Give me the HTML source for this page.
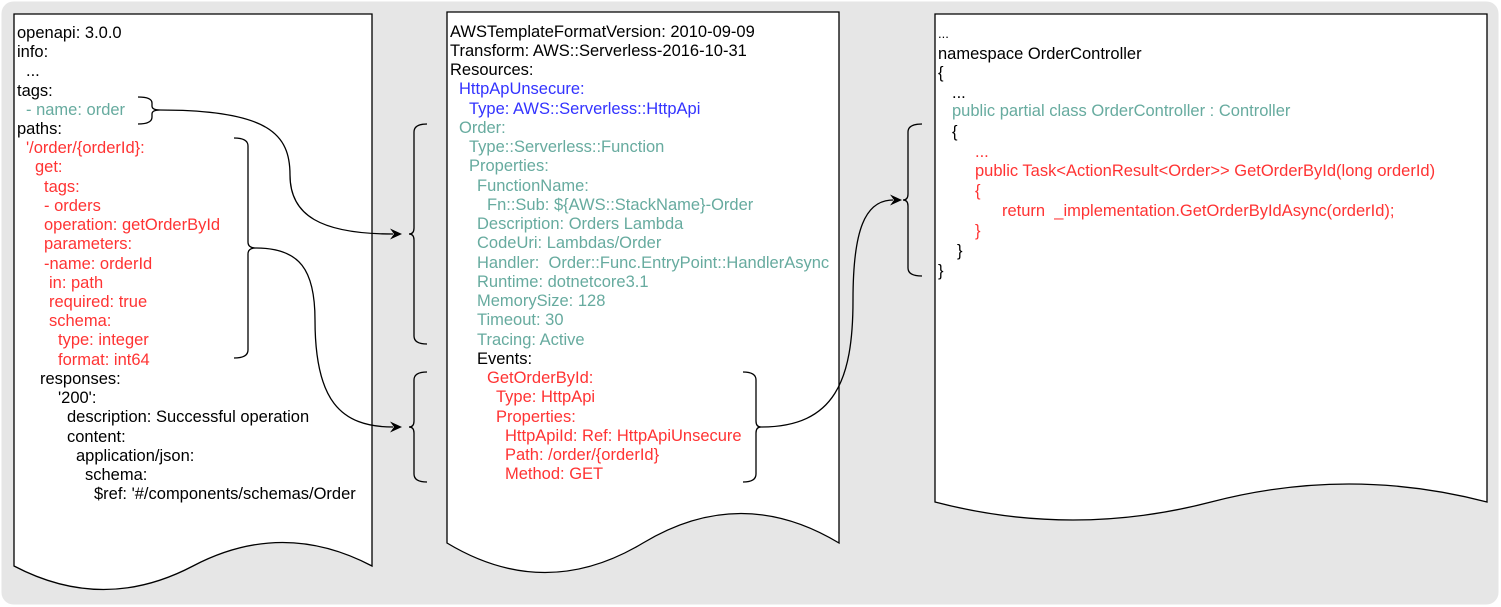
<!DOCTYPE html>
<html><head><meta charset="utf-8"><style>
html,body{margin:0;padding:0;background:#fff;}
svg{display:block;}
text{font-family:"Liberation Sans",Arial,sans-serif;font-size:16.5px;}
.k{fill:#000}.t{fill:#67AB9F}.r{fill:#FF3333}.b{fill:#3333FF}
</style></head><body>
<svg width="1501" height="607" viewBox="0 0 1501 607" xmlns="http://www.w3.org/2000/svg">
<rect x="1.5" y="1.5" width="1497" height="603" rx="12" fill="#e6e6e6"/>
<g fill="#fff" stroke="#000" stroke-width="1.3">
<path d="M14,14 H372 V566 Q282.5,519 193,566 Q103.5,613 14,566 Z"/>
<path d="M447,12 H839 V543 Q741,484 643,543 Q545,602 447,543 Z"/>
<path d="M935,14 H1487 V502 Q1349,466 1211,502 Q1073,538 935,502 Z"/>
</g>
<g>
<text class="k" x="17" y="38">openapi: 3.0.0</text>
<text class="k" x="17" y="57">info:</text>
<text class="k" x="26" y="76">...</text>
<text class="k" x="17" y="96">tags:</text>
<text class="t" x="26" y="115">- name: order</text>
<text class="k" x="17" y="134">paths:</text>
<text class="r" x="26" y="153">'/order/{orderId}:</text>
<text class="r" x="35" y="172">get:</text>
<text class="r" x="44" y="192">tags:</text>
<text class="r" x="44" y="211">- orders</text>
<text class="r" x="44" y="230">operation: getOrderById</text>
<text class="r" x="44" y="249">parameters:</text>
<text class="r" x="44" y="269">-name: orderId</text>
<text class="r" x="49" y="288">in: path</text>
<text class="r" x="49" y="307">required: true</text>
<text class="r" x="49" y="326">schema:</text>
<text class="r" x="58" y="345">type: integer</text>
<text class="r" x="58" y="365">format: int64</text>
<text class="k" x="40" y="384">responses:</text>
<text class="k" x="58" y="403">'200':</text>
<text class="k" x="67" y="422">description: Successful operation</text>
<text class="k" x="67" y="442">content:</text>
<text class="k" x="76" y="461">application/json:</text>
<text class="k" x="85" y="480">schema:</text>
<text class="k" x="94" y="499">$ref: '#/components/schemas/Order</text>
</g>
<g>
<text class="k" x="450" y="37">AWSTemplateFormatVersion: 2010-09-09</text>
<text class="k" x="450" y="56">Transform: AWS::Serverless-2016-10-31</text>
<text class="k" x="450" y="75">Resources:</text>
<text class="b" x="459" y="94">HttpApUnsecure:</text>
<text class="b" x="469" y="114">Type: AWS::Serverless::HttpApi</text>
<text class="t" x="459" y="133">Order:</text>
<text class="t" x="469" y="152">Type::Serverless::Function</text>
<text class="t" x="469" y="171">Properties:</text>
<text class="t" x="477" y="191">FunctionName:</text>
<text class="t" x="487" y="210">Fn::Sub: ${AWS::StackName}-Order</text>
<text class="t" x="477" y="229">Description: Orders Lambda</text>
<text class="t" x="477" y="248">CodeUri: Lambdas/Order</text>
<text class="t" x="477" y="268">Handler:&#160; Order::Func.EntryPoint::HandlerAsync</text>
<text class="t" x="477" y="287">Runtime: dotnetcore3.1</text>
<text class="t" x="477" y="306">MemorySize: 128</text>
<text class="t" x="477" y="325">Timeout: 30</text>
<text class="t" x="477" y="345">Tracing: Active</text>
<text class="k" x="477" y="364">Events:</text>
<text class="r" x="487" y="383">GetOrderById:</text>
<text class="r" x="496" y="402">Type: HttpApi</text>
<text class="r" x="496" y="422">Properties:</text>
<text class="r" x="505" y="441">HttpApiId: Ref: HttpApiUnsecure</text>
<text class="r" x="505" y="460">Path: /order/{orderId}</text>
<text class="r" x="505" y="479">Method: GET</text>
</g>
<g>
<text class="k" x="938" y="38" style="font-size:13px">...</text>
<text class="k" x="938" y="59">namespace OrderController</text>
<text class="k" x="938" y="78">{</text>
<text class="k" x="952" y="98">...</text>
<text class="t" x="952" y="116">public partial class OrderController : Controller</text>
<text class="k" x="952" y="137">{</text>
<text class="r" x="975" y="157">...</text>
<text class="r" x="975" y="176">public Task&lt;ActionResult&lt;Order&gt;&gt; GetOrderById(long orderId)</text>
<text class="r" x="975" y="196">{</text>
<text class="r" x="1002" y="216">return &#160;_implementation.GetOrderByIdAsync(orderId);</text>
<text class="r" x="975" y="236">}</text>
<text class="k" x="957" y="256">}</text>
<text class="k" x="938" y="276">}</text>
</g>
<g fill="none" stroke="#000" stroke-width="1.3">
<path d="M138,97 Q152,97 152,103 L152,106 Q152,110 160,110 Q152,110 152,114 L152,117 Q152,124 138,124"/>
<path d="M234,138 Q248,138 248,146 L248,242 Q248,248 256,248 Q248,248 248,254 L248,350 Q248,358 234,358"/>
<path d="M427,124 Q414,124 414,132 L414,228 Q414,234 409,234 Q414,234 414,240 L414,336 Q414,344 427,344"/>
<path d="M427,372 Q414,372 414,380 L414,421 Q414,427 409,427 Q414,427 414,433 L414,474 Q414,482 427,482"/>
<path d="M743,372 Q756,372 756,380 L756,421 Q756,427 761,427 Q756,427 756,433 L756,474 Q756,482 743,482"/>
<path d="M922,124 Q908,124 908,132 L908,194 Q908,200 903,200 Q908,200 908,206 L908,268 Q908,276 922,276"/>
<path d="M160,110 C270,110 290,135 290,175 C290,215 320,234 393,234"/>
<path d="M256,248 C300,248 315,270 315,320 C315,400 340,427 393,427"/>
<path d="M761,427 C835,427 853,380 853,300 C853,230 865,200 893,200"/>
</g>
<g fill="#000">
<polygon points="402,234 390,228.5 394,234 390,239.5"/>
<polygon points="402,427 390,421.5 394,427 390,432.5"/>
<polygon points="902,200 890,194.5 894,200 890,205.5"/>
</g>
</svg>
</body></html>
